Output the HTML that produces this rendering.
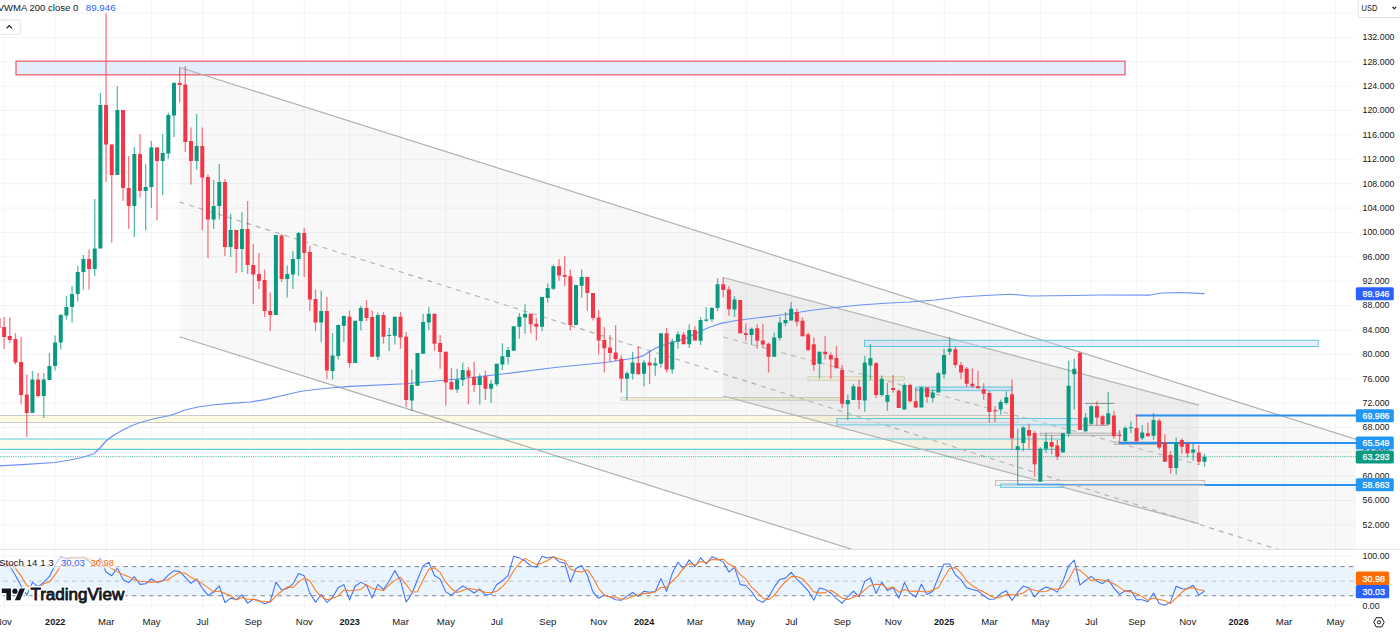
<!DOCTYPE html>
<html><head><meta charset="utf-8"><title>Chart</title><style>html,body{margin:0;padding:0;background:#fff;width:1400px;height:632px;overflow:hidden}</style></head><body><svg width="1400" height="632" viewBox="0 0 1400 632" style="position:absolute;left:0;top:0;font-family:'Liberation Sans',sans-serif">
<defs><clipPath id="main"><rect x="0" y="0" width="1356" height="549.3"/></clipPath><clipPath id="st"><rect x="0" y="549.6" width="1355.2" height="61"/></clipPath></defs>
<rect width="1400" height="632" fill="#fff"/>
<g stroke="#f3f4f7" stroke-width="1"><line x1="4.28" y1="0" x2="4.28" y2="610.6"/><line x1="55.24" y1="0" x2="55.24" y2="610.6"/><line x1="106.2" y1="0" x2="106.2" y2="610.6"/><line x1="151.5" y1="0" x2="151.5" y2="610.6"/><line x1="202.46" y1="0" x2="202.46" y2="610.6"/><line x1="253.41" y1="0" x2="253.41" y2="610.6"/><line x1="304.37" y1="0" x2="304.37" y2="610.6"/><line x1="349.67" y1="0" x2="349.67" y2="610.6"/><line x1="400.63" y1="0" x2="400.63" y2="610.6"/><line x1="445.93" y1="0" x2="445.93" y2="610.6"/><line x1="496.88" y1="0" x2="496.88" y2="610.6"/><line x1="547.84" y1="0" x2="547.84" y2="610.6"/><line x1="598.8" y1="0" x2="598.8" y2="610.6"/><line x1="644.1" y1="0" x2="644.1" y2="610.6"/><line x1="695.06" y1="0" x2="695.06" y2="610.6"/><line x1="746.02" y1="0" x2="746.02" y2="610.6"/><line x1="791.31" y1="0" x2="791.31" y2="610.6"/><line x1="842.27" y1="0" x2="842.27" y2="610.6"/><line x1="893.23" y1="0" x2="893.23" y2="610.6"/><line x1="944.19" y1="0" x2="944.19" y2="610.6"/><line x1="989.49" y1="0" x2="989.49" y2="610.6"/><line x1="1040.45" y1="0" x2="1040.45" y2="610.6"/><line x1="1091.41" y1="0" x2="1091.41" y2="610.6"/><line x1="1136.7" y1="0" x2="1136.7" y2="610.6"/><line x1="1187.66" y1="0" x2="1187.66" y2="610.6"/><line x1="1238.62" y1="0" x2="1238.62" y2="610.6"/><line x1="1283.92" y1="0" x2="1283.92" y2="610.6"/><line x1="1335.48" y1="0" x2="1335.48" y2="610.6"/><line x1="0" y1="524.97" x2="1355" y2="524.97"/><line x1="0" y1="500.59" x2="1355" y2="500.59"/><line x1="0" y1="476.22" x2="1355" y2="476.22"/><line x1="0" y1="451.84" x2="1355" y2="451.84"/><line x1="0" y1="427.47" x2="1355" y2="427.47"/><line x1="0" y1="403.09" x2="1355" y2="403.09"/><line x1="0" y1="378.71" x2="1355" y2="378.71"/><line x1="0" y1="354.34" x2="1355" y2="354.34"/><line x1="0" y1="329.96" x2="1355" y2="329.96"/><line x1="0" y1="305.59" x2="1355" y2="305.59"/><line x1="0" y1="281.21" x2="1355" y2="281.21"/><line x1="0" y1="256.83" x2="1355" y2="256.83"/><line x1="0" y1="232.46" x2="1355" y2="232.46"/><line x1="0" y1="208.08" x2="1355" y2="208.08"/><line x1="0" y1="183.71" x2="1355" y2="183.71"/><line x1="0" y1="159.33" x2="1355" y2="159.33"/><line x1="0" y1="134.95" x2="1355" y2="134.95"/><line x1="0" y1="110.58" x2="1355" y2="110.58"/><line x1="0" y1="86.20" x2="1355" y2="86.20"/><line x1="0" y1="61.83" x2="1355" y2="61.83"/><line x1="0" y1="37.45" x2="1355" y2="37.45"/><line x1="0" y1="13.07" x2="1355" y2="13.07"/><line x1="0" y1="556.13" x2="1355" y2="556.13"/><line x1="0" y1="605.30" x2="1355" y2="605.30"/></g>
<line x1="0" y1="549.4" x2="1400" y2="549.4" stroke="#e0e3eb" stroke-width="1"/>
<g clip-path="url(#main)">
<rect x="16" y="61.2" width="1109" height="13.6" fill="#e3eefd" stroke="#f2636f" stroke-width="1.3"/>
<polygon points="179.5,67.34 1400,453.26 1400,722.67 179.5,336.75" fill="rgba(60,60,60,0.034)"/>
<rect x="-2" y="415.5" width="1020" height="7" fill="#fcfae3" stroke="#c4c6d0" stroke-width="0.9"/>
<rect x="-2" y="439" width="1064" height="10.4" fill="#fdfbea"/>
<line x1="0" y1="439" x2="1062" y2="439" stroke="#5fcfe0" stroke-width="1.2"/>
<line x1="0" y1="449.4" x2="1062" y2="449.4" stroke="#5fcfe0" stroke-width="1.2"/>
<rect x="621" y="397.4" width="221.5" height="2.8" fill="#f3f0d6" stroke="#c9c9c0" stroke-width="0.8"/>
<polygon points="723.25,277.50 1198.9,405.17 1198.9,523.67 723.25,396.00" fill="rgba(60,60,60,0.06)"/>
<line x1="180" y1="67.50" x2="1400" y2="453.26" stroke="#b0b0b0" stroke-width="1.2"/>
<line x1="179.5" y1="336.75" x2="1400" y2="722.67" stroke="#b0b0b0" stroke-width="1.2"/>
<line x1="179.5" y1="202.00" x2="1400" y2="587.92" stroke="#b0b0b0" stroke-width="1.1" stroke-dasharray="5 5"/>
<line x1="723.25" y1="277.50" x2="1198.9" y2="405.17" stroke="#b4b4b4" stroke-width="1.25"/>
<line x1="723.25" y1="396.00" x2="1198.9" y2="523.67" stroke="#b4b4b4" stroke-width="1.25"/>
<line x1="723.25" y1="337.00" x2="1198.9" y2="464.67" stroke="#b8b8b8" stroke-width="1.1" stroke-dasharray="5 5"/>
<rect x="808" y="376.8" width="96.3" height="3.4" fill="#efecd0" stroke="#c9c9bc" stroke-width="0.8"/>
<rect x="864.5" y="340.3" width="453.7" height="6.2" fill="rgba(195,212,250,0.4)" stroke="#62c8e0" stroke-width="1"/>
<rect x="916" y="387" width="96" height="3.6" fill="rgba(190,215,245,0.6)" stroke="#62c8e0" stroke-width="1"/>
<rect x="837" y="418.5" width="243" height="6.4" fill="rgba(205,225,250,0.4)" stroke="#62c8e0" stroke-width="1"/>
<rect x="995.4" y="480.5" width="209.3" height="5" fill="#f6f1f1" stroke="#bdbdbd" stroke-width="0.9"/>
<rect x="1000.6" y="484" width="62.4" height="3.4" fill="rgba(205,225,250,0.4)" stroke="#62c8e0" stroke-width="1"/>
<rect x="1040.3" y="433.1" width="80" height="2.3" fill="#e4e0e0" stroke="#aaaaaa" stroke-width="0.8"/>
<rect x="1114.3" y="442" width="47" height="2.4" fill="#e4e0e0" stroke="#aaaaaa" stroke-width="0.8"/>
<line x1="1085" y1="403.4" x2="1114.6" y2="403.4" stroke="#8a8a8a" stroke-width="1"/>
<line x1="1082" y1="425.3" x2="1108.5" y2="425.3" stroke="#9c9c9c" stroke-width="1"/>
<line x1="1135.7" y1="415.6" x2="1356" y2="415.6" stroke="#2b8ff0" stroke-width="2"/>
<line x1="1118.6" y1="442.9" x2="1356" y2="442.9" stroke="#2b8ff0" stroke-width="2"/>
<line x1="1017.5" y1="484.6" x2="1204.8" y2="484.6" stroke="#4a9bf0" stroke-width="1"/>
<line x1="1204.8" y1="484.9" x2="1356" y2="484.9" stroke="#2b8ff0" stroke-width="2"/>
<line x1="0" y1="456.7" x2="1356" y2="456.7" stroke="#089981" stroke-width="1" stroke-dasharray="1.1 1.1" opacity="0.7"/>
<polyline fill="none" stroke="#6d92f7" stroke-width="1.25" stroke-linejoin="round" points="0,466 30,464.2 55,462.5 70,460 82,457.5 94,453.75 100,448 106,441 114,435 123,430 131,426 140,422.5 155,418.5 170,415.5 185,410 198,407 212,405 230,403.3 250,402 265,399.7 285,395 300,391.5 315,389.5 330,388 350,386.3 405,383.75 455,379.25 505,373.75 555,367.5 605,362.5 630,358.75 636,357.8 642,356.2 646,354 650,351.25 655,348.5 660,346.25 672,342.5 685,338.75 698,332.5 710,327 722,323.2 735,320.75 760,317.5 785,314.5 810,310.5 835,307.5 860,305 885,303.25 910,302 935,300 960,297 985,295.5 1010,294.25 1020,295 1030,296 1075,295.5 1100,295 1150,295 1156,294 1162,293 1180,292.5 1204.5,293.6"/>
<g stroke-width="1.3" opacity="0.66"><line x1="-1.53" y1="317" x2="-1.53" y2="330" stroke="#f23645"/><line x1="4.13" y1="317" x2="4.13" y2="349" stroke="#f23645"/><line x1="9.79" y1="317.5" x2="9.79" y2="343" stroke="#f23645"/><line x1="15.46" y1="333" x2="15.46" y2="364.5" stroke="#f23645"/><line x1="21.12" y1="337" x2="21.12" y2="404.5" stroke="#f23645"/><line x1="26.78" y1="374.5" x2="26.78" y2="437" stroke="#f23645"/><line x1="32.44" y1="371" x2="32.44" y2="413" stroke="#089981"/><line x1="38.10" y1="373" x2="38.10" y2="397.5" stroke="#f23645"/><line x1="43.77" y1="373" x2="43.77" y2="418" stroke="#089981"/><line x1="49.43" y1="353" x2="49.43" y2="380" stroke="#089981"/><line x1="55.09" y1="335.5" x2="55.09" y2="370.5" stroke="#089981"/><line x1="60.75" y1="314" x2="60.75" y2="349.5" stroke="#089981"/><line x1="66.42" y1="296" x2="66.42" y2="319.5" stroke="#089981"/><line x1="72.08" y1="286" x2="72.08" y2="322.5" stroke="#089981"/><line x1="77.74" y1="266" x2="77.74" y2="301.5" stroke="#089981"/><line x1="83.40" y1="255" x2="83.40" y2="289.5" stroke="#089981"/><line x1="89.06" y1="249.5" x2="89.06" y2="289.5" stroke="#f23645"/><line x1="94.73" y1="199" x2="94.73" y2="276" stroke="#089981"/><line x1="100.39" y1="93" x2="100.39" y2="248.5" stroke="#089981"/><line x1="106.05" y1="13.5" x2="106.05" y2="182" stroke="#f23645"/><line x1="111.71" y1="144.5" x2="111.71" y2="242.5" stroke="#f23645"/><line x1="117.37" y1="86" x2="117.37" y2="175" stroke="#089981"/><line x1="123.04" y1="110" x2="123.04" y2="201" stroke="#f23645"/><line x1="128.70" y1="156" x2="128.70" y2="229" stroke="#f23645"/><line x1="134.36" y1="147" x2="134.36" y2="237" stroke="#089981"/><line x1="140.02" y1="134" x2="140.02" y2="197.5" stroke="#f23645"/><line x1="145.68" y1="164" x2="145.68" y2="230.5" stroke="#089981"/><line x1="151.35" y1="141" x2="151.35" y2="208" stroke="#089981"/><line x1="157.01" y1="147.5" x2="157.01" y2="220.5" stroke="#f23645"/><line x1="162.67" y1="134" x2="162.67" y2="195" stroke="#089981"/><line x1="168.33" y1="112.5" x2="168.33" y2="159" stroke="#089981"/><line x1="174.00" y1="82" x2="174.00" y2="137" stroke="#089981"/><line x1="179.66" y1="67.5" x2="179.66" y2="102.5" stroke="#f23645"/><line x1="185.32" y1="66" x2="185.32" y2="152" stroke="#f23645"/><line x1="190.98" y1="127.5" x2="190.98" y2="184.5" stroke="#f23645"/><line x1="196.64" y1="114" x2="196.64" y2="169.5" stroke="#089981"/><line x1="202.31" y1="127.5" x2="202.31" y2="230" stroke="#f23645"/><line x1="207.97" y1="174.5" x2="207.97" y2="258" stroke="#f23645"/><line x1="213.63" y1="180" x2="213.63" y2="229" stroke="#089981"/><line x1="219.29" y1="164" x2="219.29" y2="219.5" stroke="#089981"/><line x1="224.95" y1="179" x2="224.95" y2="256" stroke="#f23645"/><line x1="230.62" y1="214" x2="230.62" y2="257" stroke="#089981"/><line x1="236.28" y1="230" x2="236.28" y2="273" stroke="#f23645"/><line x1="241.94" y1="212" x2="241.94" y2="272" stroke="#089981"/><line x1="247.60" y1="201" x2="247.60" y2="274" stroke="#f23645"/><line x1="253.26" y1="244" x2="253.26" y2="304" stroke="#f23645"/><line x1="258.93" y1="253" x2="258.93" y2="289" stroke="#f23645"/><line x1="264.59" y1="269.5" x2="264.59" y2="317" stroke="#f23645"/><line x1="270.25" y1="292.5" x2="270.25" y2="331" stroke="#f23645"/><line x1="275.91" y1="235" x2="275.91" y2="315" stroke="#089981"/><line x1="281.58" y1="234" x2="281.58" y2="282" stroke="#f23645"/><line x1="287.24" y1="265.5" x2="287.24" y2="297.5" stroke="#089981"/><line x1="292.90" y1="251" x2="292.90" y2="289" stroke="#089981"/><line x1="298.56" y1="232" x2="298.56" y2="276" stroke="#089981"/><line x1="304.22" y1="228" x2="304.22" y2="277" stroke="#f23645"/><line x1="309.89" y1="246" x2="309.89" y2="311" stroke="#f23645"/><line x1="315.55" y1="289.5" x2="315.55" y2="331" stroke="#f23645"/><line x1="321.21" y1="290.5" x2="321.21" y2="342" stroke="#089981"/><line x1="326.87" y1="297" x2="326.87" y2="379" stroke="#f23645"/><line x1="332.53" y1="333" x2="332.53" y2="379.5" stroke="#089981"/><line x1="338.20" y1="324.5" x2="338.20" y2="359.5" stroke="#089981"/><line x1="343.86" y1="315.5" x2="343.86" y2="342" stroke="#089981"/><line x1="349.52" y1="310.5" x2="349.52" y2="367.5" stroke="#f23645"/><line x1="355.18" y1="320.75" x2="355.18" y2="363" stroke="#089981"/><line x1="360.84" y1="305.5" x2="360.84" y2="330.5" stroke="#089981"/><line x1="366.51" y1="300" x2="366.51" y2="321" stroke="#f23645"/><line x1="372.17" y1="310.5" x2="372.17" y2="356.75" stroke="#f23645"/><line x1="377.83" y1="312.5" x2="377.83" y2="360" stroke="#089981"/><line x1="383.49" y1="312" x2="383.49" y2="343.75" stroke="#f23645"/><line x1="389.15" y1="328" x2="389.15" y2="351" stroke="#089981"/><line x1="394.82" y1="316.75" x2="394.82" y2="344.5" stroke="#089981"/><line x1="400.48" y1="312" x2="400.48" y2="348.75" stroke="#f23645"/><line x1="406.14" y1="332" x2="406.14" y2="407" stroke="#f23645"/><line x1="411.80" y1="369.5" x2="411.80" y2="411" stroke="#089981"/><line x1="417.47" y1="353" x2="417.47" y2="385.75" stroke="#089981"/><line x1="423.13" y1="313.75" x2="423.13" y2="353.75" stroke="#089981"/><line x1="428.79" y1="307" x2="428.79" y2="330" stroke="#089981"/><line x1="434.45" y1="313.75" x2="434.45" y2="350.75" stroke="#f23645"/><line x1="440.11" y1="335" x2="440.11" y2="368.75" stroke="#f23645"/><line x1="445.78" y1="351.75" x2="445.78" y2="405.5" stroke="#f23645"/><line x1="451.44" y1="368" x2="451.44" y2="389.5" stroke="#f23645"/><line x1="457.10" y1="368.75" x2="457.10" y2="393" stroke="#089981"/><line x1="462.76" y1="362.5" x2="462.76" y2="386" stroke="#089981"/><line x1="468.42" y1="367" x2="468.42" y2="404.5" stroke="#f23645"/><line x1="474.09" y1="361.75" x2="474.09" y2="392" stroke="#f23645"/><line x1="479.75" y1="373.75" x2="479.75" y2="404.5" stroke="#089981"/><line x1="485.41" y1="370.5" x2="485.41" y2="400" stroke="#f23645"/><line x1="491.07" y1="380" x2="491.07" y2="403" stroke="#089981"/><line x1="496.73" y1="363.75" x2="496.73" y2="386.25" stroke="#089981"/><line x1="502.40" y1="343.25" x2="502.40" y2="370" stroke="#089981"/><line x1="508.06" y1="347" x2="508.06" y2="364.5" stroke="#089981"/><line x1="513.72" y1="326.25" x2="513.72" y2="350.75" stroke="#089981"/><line x1="519.38" y1="313" x2="519.38" y2="338.75" stroke="#089981"/><line x1="525.05" y1="304.25" x2="525.05" y2="333.75" stroke="#089981"/><line x1="530.71" y1="313.75" x2="530.71" y2="333.25" stroke="#f23645"/><line x1="536.37" y1="317.5" x2="536.37" y2="340.5" stroke="#f23645"/><line x1="542.03" y1="297" x2="542.03" y2="331.25" stroke="#089981"/><line x1="547.69" y1="283.25" x2="547.69" y2="302.5" stroke="#089981"/><line x1="553.36" y1="264.5" x2="553.36" y2="290" stroke="#089981"/><line x1="559.02" y1="259.25" x2="559.02" y2="280.75" stroke="#f23645"/><line x1="564.68" y1="256.25" x2="564.68" y2="286.25" stroke="#f23645"/><line x1="570.34" y1="269.5" x2="570.34" y2="330.5" stroke="#f23645"/><line x1="576.00" y1="285" x2="576.00" y2="325" stroke="#089981"/><line x1="581.67" y1="269.5" x2="581.67" y2="297.5" stroke="#089981"/><line x1="587.33" y1="277" x2="587.33" y2="310.75" stroke="#f23645"/><line x1="592.99" y1="293" x2="592.99" y2="320.5" stroke="#f23645"/><line x1="598.65" y1="310" x2="598.65" y2="354.5" stroke="#f23645"/><line x1="604.31" y1="327" x2="604.31" y2="372.5" stroke="#f23645"/><line x1="609.98" y1="335" x2="609.98" y2="361.75" stroke="#f23645"/><line x1="615.64" y1="325" x2="615.64" y2="361.25" stroke="#f23645"/><line x1="621.30" y1="355.5" x2="621.30" y2="392.5" stroke="#f23645"/><line x1="626.96" y1="371.25" x2="626.96" y2="400" stroke="#089981"/><line x1="632.63" y1="351.75" x2="632.63" y2="379.5" stroke="#089981"/><line x1="638.29" y1="346.25" x2="638.29" y2="374.25" stroke="#f23645"/><line x1="643.95" y1="360" x2="643.95" y2="386.25" stroke="#089981"/><line x1="649.61" y1="350.75" x2="649.61" y2="384.25" stroke="#f23645"/><line x1="655.27" y1="357.5" x2="655.27" y2="375.75" stroke="#089981"/><line x1="660.94" y1="333.25" x2="660.94" y2="367.5" stroke="#089981"/><line x1="666.60" y1="328" x2="666.60" y2="372.5" stroke="#f23645"/><line x1="672.26" y1="338.75" x2="672.26" y2="373.75" stroke="#089981"/><line x1="677.92" y1="331.25" x2="677.92" y2="348.75" stroke="#089981"/><line x1="683.58" y1="332" x2="683.58" y2="344.25" stroke="#f23645"/><line x1="689.25" y1="324.25" x2="689.25" y2="348" stroke="#089981"/><line x1="694.91" y1="326.25" x2="694.91" y2="340.5" stroke="#f23645"/><line x1="700.57" y1="317" x2="700.57" y2="345" stroke="#089981"/><line x1="706.23" y1="307" x2="706.23" y2="322" stroke="#089981"/><line x1="711.89" y1="307" x2="711.89" y2="321.75" stroke="#089981"/><line x1="717.56" y1="278" x2="717.56" y2="311.25" stroke="#089981"/><line x1="723.22" y1="277.5" x2="723.22" y2="297.5" stroke="#f23645"/><line x1="728.88" y1="286.25" x2="728.88" y2="315.75" stroke="#f23645"/><line x1="734.54" y1="296.25" x2="734.54" y2="317" stroke="#089981"/><line x1="740.21" y1="300" x2="740.21" y2="333.25" stroke="#f23645"/><line x1="745.87" y1="323.75" x2="745.87" y2="340.75" stroke="#f23645"/><line x1="751.53" y1="327.5" x2="751.53" y2="345" stroke="#089981"/><line x1="757.19" y1="324.5" x2="757.19" y2="348.75" stroke="#f23645"/><line x1="762.85" y1="323.75" x2="762.85" y2="347.5" stroke="#f23645"/><line x1="768.52" y1="342.5" x2="768.52" y2="372.5" stroke="#f23645"/><line x1="774.18" y1="332.5" x2="774.18" y2="356.75" stroke="#089981"/><line x1="779.84" y1="317" x2="779.84" y2="340.75" stroke="#089981"/><line x1="785.50" y1="312" x2="785.50" y2="326.25" stroke="#089981"/><line x1="791.16" y1="302" x2="791.16" y2="320.5" stroke="#089981"/><line x1="796.83" y1="308.75" x2="796.83" y2="326.25" stroke="#f23645"/><line x1="802.49" y1="317.5" x2="802.49" y2="336.25" stroke="#f23645"/><line x1="808.15" y1="332.5" x2="808.15" y2="351.25" stroke="#f23645"/><line x1="813.81" y1="337.5" x2="813.81" y2="370.75" stroke="#f23645"/><line x1="819.47" y1="351.75" x2="819.47" y2="378.75" stroke="#089981"/><line x1="825.14" y1="336.25" x2="825.14" y2="359.5" stroke="#f23645"/><line x1="830.80" y1="352.5" x2="830.80" y2="378.75" stroke="#f23645"/><line x1="836.46" y1="346.25" x2="836.46" y2="368.25" stroke="#f23645"/><line x1="842.12" y1="365" x2="842.12" y2="408.25" stroke="#f23645"/><line x1="847.79" y1="394.5" x2="847.79" y2="420" stroke="#089981"/><line x1="853.45" y1="383.75" x2="853.45" y2="400" stroke="#089981"/><line x1="859.11" y1="380" x2="859.11" y2="409.25" stroke="#f23645"/><line x1="864.77" y1="355.75" x2="864.77" y2="411.75" stroke="#089981"/><line x1="870.43" y1="344.25" x2="870.43" y2="380" stroke="#089981"/><line x1="876.10" y1="362" x2="876.10" y2="398" stroke="#f23645"/><line x1="881.76" y1="375.5" x2="881.76" y2="396.75" stroke="#089981"/><line x1="887.42" y1="383" x2="887.42" y2="410.75" stroke="#089981"/><line x1="893.08" y1="375" x2="893.08" y2="392.5" stroke="#f23645"/><line x1="898.74" y1="389.25" x2="898.74" y2="408" stroke="#f23645"/><line x1="904.41" y1="383.25" x2="904.41" y2="409.5" stroke="#089981"/><line x1="910.07" y1="383.75" x2="910.07" y2="402.5" stroke="#f23645"/><line x1="915.73" y1="388" x2="915.73" y2="407.5" stroke="#f23645"/><line x1="921.39" y1="386.25" x2="921.39" y2="407.5" stroke="#089981"/><line x1="927.05" y1="387.5" x2="927.05" y2="402.5" stroke="#f23645"/><line x1="932.72" y1="389.5" x2="932.72" y2="402.5" stroke="#089981"/><line x1="938.38" y1="372" x2="938.38" y2="392.5" stroke="#089981"/><line x1="944.04" y1="348.75" x2="944.04" y2="378.25" stroke="#089981"/><line x1="949.70" y1="337" x2="949.70" y2="355" stroke="#089981"/><line x1="955.36" y1="346.75" x2="955.36" y2="367.5" stroke="#f23645"/><line x1="961.03" y1="362" x2="961.03" y2="379.25" stroke="#f23645"/><line x1="966.69" y1="367" x2="966.69" y2="387" stroke="#f23645"/><line x1="972.35" y1="368.25" x2="972.35" y2="387.5" stroke="#f23645"/><line x1="978.01" y1="370.75" x2="978.01" y2="388.25" stroke="#f23645"/><line x1="983.68" y1="383.25" x2="983.68" y2="400" stroke="#f23645"/><line x1="989.34" y1="390.75" x2="989.34" y2="422.5" stroke="#f23645"/><line x1="995.00" y1="406" x2="995.00" y2="422" stroke="#f23645"/><line x1="1000.66" y1="399.5" x2="1000.66" y2="414.5" stroke="#089981"/><line x1="1006.32" y1="391.25" x2="1006.32" y2="404.5" stroke="#089981"/><line x1="1011.99" y1="379.5" x2="1011.99" y2="449.5" stroke="#f23645"/><line x1="1017.65" y1="428.75" x2="1017.65" y2="485" stroke="#089981"/><line x1="1023.31" y1="426.25" x2="1023.31" y2="451.25" stroke="#089981"/><line x1="1028.97" y1="423.75" x2="1028.97" y2="448.75" stroke="#f23645"/><line x1="1034.63" y1="431.25" x2="1034.63" y2="476.75" stroke="#f23645"/><line x1="1040.30" y1="447" x2="1040.30" y2="481.75" stroke="#089981"/><line x1="1045.96" y1="433" x2="1045.96" y2="453" stroke="#089981"/><line x1="1051.62" y1="435" x2="1051.62" y2="454.5" stroke="#f23645"/><line x1="1057.28" y1="440" x2="1057.28" y2="460" stroke="#f23645"/><line x1="1062.94" y1="433.25" x2="1062.94" y2="452.5" stroke="#089981"/><line x1="1068.61" y1="360.75" x2="1068.61" y2="436.75" stroke="#089981"/><line x1="1074.27" y1="358.75" x2="1074.27" y2="409.5" stroke="#089981"/><line x1="1079.93" y1="351.5" x2="1079.93" y2="430" stroke="#f23645"/><line x1="1085.59" y1="413" x2="1085.59" y2="432.5" stroke="#089981"/><line x1="1091.26" y1="405" x2="1091.26" y2="425" stroke="#089981"/><line x1="1096.92" y1="401.25" x2="1096.92" y2="425" stroke="#f23645"/><line x1="1102.58" y1="415" x2="1102.58" y2="425.5" stroke="#f23645"/><line x1="1108.24" y1="392" x2="1108.24" y2="424.5" stroke="#089981"/><line x1="1113.90" y1="410.75" x2="1113.90" y2="438.75" stroke="#f23645"/><line x1="1119.57" y1="430" x2="1119.57" y2="443" stroke="#f23645"/><line x1="1125.23" y1="426.25" x2="1125.23" y2="441.25" stroke="#089981"/><line x1="1130.89" y1="421.25" x2="1130.89" y2="433.25" stroke="#089981"/><line x1="1136.55" y1="415" x2="1136.55" y2="441.25" stroke="#f23645"/><line x1="1142.21" y1="425" x2="1142.21" y2="440" stroke="#089981"/><line x1="1147.88" y1="422.5" x2="1147.88" y2="436.25" stroke="#f23645"/><line x1="1153.54" y1="413" x2="1153.54" y2="440" stroke="#089981"/><line x1="1159.20" y1="418.75" x2="1159.20" y2="449.5" stroke="#f23645"/><line x1="1164.86" y1="434.25" x2="1164.86" y2="461.75" stroke="#f23645"/><line x1="1170.52" y1="451" x2="1170.52" y2="473.75" stroke="#f23645"/><line x1="1176.19" y1="437.5" x2="1176.19" y2="474.5" stroke="#089981"/><line x1="1181.85" y1="438.25" x2="1181.85" y2="453.75" stroke="#f23645"/><line x1="1187.51" y1="442.5" x2="1187.51" y2="457.5" stroke="#f23645"/><line x1="1193.17" y1="443.75" x2="1193.17" y2="460.75" stroke="#089981"/><line x1="1198.84" y1="445" x2="1198.84" y2="465" stroke="#f23645"/><line x1="1204.50" y1="453.75" x2="1204.50" y2="466.75" stroke="#089981"/></g>
<g><rect x="-3.53" y="318" width="4" height="10.00" fill="#f23645"/><rect x="2.13" y="327" width="4" height="10.00" fill="#f23645"/><rect x="7.79" y="336" width="4" height="4.00" fill="#f23645"/><rect x="13.46" y="339" width="4" height="23.50" fill="#f23645"/><rect x="19.12" y="362" width="4" height="33.00" fill="#f23645"/><rect x="24.78" y="394.5" width="4" height="18.50" fill="#f23645"/><rect x="30.44" y="379.5" width="4" height="33.50" fill="#089981"/><rect x="36.10" y="379.5" width="4" height="16.50" fill="#f23645"/><rect x="41.77" y="379.5" width="4" height="16.50" fill="#089981"/><rect x="47.43" y="366" width="4" height="14.00" fill="#089981"/><rect x="53.09" y="342.5" width="4" height="23.50" fill="#089981"/><rect x="58.75" y="315" width="4" height="27.50" fill="#089981"/><rect x="64.42" y="307" width="4" height="8.50" fill="#089981"/><rect x="70.08" y="294" width="4" height="13.00" fill="#089981"/><rect x="75.74" y="272" width="4" height="22.00" fill="#089981"/><rect x="81.40" y="259" width="4" height="13.00" fill="#089981"/><rect x="87.06" y="259" width="4" height="10.00" fill="#f23645"/><rect x="92.73" y="248.5" width="4" height="20.50" fill="#089981"/><rect x="98.39" y="105" width="4" height="143.50" fill="#089981"/><rect x="104.05" y="105" width="4" height="39.50" fill="#f23645"/><rect x="109.71" y="144.5" width="4" height="30.50" fill="#f23645"/><rect x="115.37" y="110" width="4" height="65.00" fill="#089981"/><rect x="121.04" y="110" width="4" height="78.00" fill="#f23645"/><rect x="126.70" y="188" width="4" height="18.00" fill="#f23645"/><rect x="132.36" y="154" width="4" height="52.00" fill="#089981"/><rect x="138.02" y="154" width="4" height="37.00" fill="#f23645"/><rect x="143.68" y="187" width="4" height="4.00" fill="#089981"/><rect x="149.35" y="147.5" width="4" height="39.50" fill="#089981"/><rect x="155.01" y="147.5" width="4" height="13.50" fill="#f23645"/><rect x="160.67" y="153" width="4" height="8.00" fill="#089981"/><rect x="166.33" y="115" width="4" height="38.50" fill="#089981"/><rect x="172.00" y="83" width="4" height="32.50" fill="#089981"/><rect x="177.66" y="83" width="4" height="2.00" fill="#f23645"/><rect x="183.32" y="84.5" width="4" height="57.50" fill="#f23645"/><rect x="188.98" y="141" width="4" height="20.00" fill="#f23645"/><rect x="194.64" y="146" width="4" height="15.00" fill="#089981"/><rect x="200.31" y="146" width="4" height="31.50" fill="#f23645"/><rect x="205.97" y="177" width="4" height="42.50" fill="#f23645"/><rect x="211.63" y="206" width="4" height="13.50" fill="#089981"/><rect x="217.29" y="182" width="4" height="24.00" fill="#089981"/><rect x="222.95" y="182" width="4" height="65.00" fill="#f23645"/><rect x="228.62" y="230" width="4" height="17.00" fill="#089981"/><rect x="234.28" y="230" width="4" height="19.00" fill="#f23645"/><rect x="239.94" y="229" width="4" height="20.00" fill="#089981"/><rect x="245.60" y="229" width="4" height="36.00" fill="#f23645"/><rect x="251.26" y="265" width="4" height="9.50" fill="#f23645"/><rect x="256.93" y="274" width="4" height="7.00" fill="#f23645"/><rect x="262.59" y="280" width="4" height="31.00" fill="#f23645"/><rect x="268.25" y="311" width="4" height="4.00" fill="#f23645"/><rect x="273.91" y="235" width="4" height="80.00" fill="#089981"/><rect x="279.58" y="235.5" width="4" height="43.50" fill="#f23645"/><rect x="285.24" y="274" width="4" height="5.00" fill="#089981"/><rect x="290.90" y="259" width="4" height="15.50" fill="#089981"/><rect x="296.56" y="233" width="4" height="26.00" fill="#089981"/><rect x="302.22" y="233" width="4" height="20.00" fill="#f23645"/><rect x="307.89" y="252" width="4" height="47.50" fill="#f23645"/><rect x="313.55" y="299" width="4" height="23.50" fill="#f23645"/><rect x="319.21" y="311" width="4" height="11.50" fill="#089981"/><rect x="324.87" y="311" width="4" height="59.50" fill="#f23645"/><rect x="330.53" y="355.5" width="4" height="15.50" fill="#089981"/><rect x="336.20" y="325" width="4" height="31.00" fill="#089981"/><rect x="341.86" y="316" width="4" height="9.75" fill="#089981"/><rect x="347.52" y="316.75" width="4" height="46.25" fill="#f23645"/><rect x="353.18" y="320.75" width="4" height="42.25" fill="#089981"/><rect x="358.84" y="308" width="4" height="13.00" fill="#089981"/><rect x="364.51" y="308" width="4" height="10.00" fill="#f23645"/><rect x="370.17" y="317" width="4" height="39.75" fill="#f23645"/><rect x="375.83" y="315" width="4" height="41.75" fill="#089981"/><rect x="381.49" y="315" width="4" height="21.75" fill="#f23645"/><rect x="387.15" y="335" width="4" height="1.00" fill="#089981"/><rect x="392.82" y="316.75" width="4" height="19.00" fill="#089981"/><rect x="398.48" y="316.75" width="4" height="20.75" fill="#f23645"/><rect x="404.14" y="336.75" width="4" height="63.25" fill="#f23645"/><rect x="409.80" y="385" width="4" height="15.50" fill="#089981"/><rect x="415.47" y="353" width="4" height="32.75" fill="#089981"/><rect x="421.13" y="322" width="4" height="31.75" fill="#089981"/><rect x="426.79" y="313.75" width="4" height="8.75" fill="#089981"/><rect x="432.45" y="313.75" width="4" height="30.00" fill="#f23645"/><rect x="438.11" y="343" width="4" height="9.00" fill="#f23645"/><rect x="443.78" y="351.75" width="4" height="30.75" fill="#f23645"/><rect x="449.44" y="382" width="4" height="7.50" fill="#f23645"/><rect x="455.10" y="379.5" width="4" height="10.00" fill="#089981"/><rect x="460.76" y="370" width="4" height="10.00" fill="#089981"/><rect x="466.42" y="370.5" width="4" height="6.25" fill="#f23645"/><rect x="472.09" y="377" width="4" height="8.00" fill="#f23645"/><rect x="477.75" y="376.75" width="4" height="8.25" fill="#089981"/><rect x="483.41" y="376.25" width="4" height="12.50" fill="#f23645"/><rect x="489.07" y="383.75" width="4" height="5.00" fill="#089981"/><rect x="494.73" y="363.75" width="4" height="20.50" fill="#089981"/><rect x="500.40" y="356.25" width="4" height="8.25" fill="#089981"/><rect x="506.06" y="350" width="4" height="7.00" fill="#089981"/><rect x="511.72" y="326.25" width="4" height="24.50" fill="#089981"/><rect x="517.38" y="316.75" width="4" height="10.00" fill="#089981"/><rect x="523.05" y="313.75" width="4" height="3.75" fill="#089981"/><rect x="528.71" y="313.75" width="4" height="10.50" fill="#f23645"/><rect x="534.37" y="323.75" width="4" height="3.00" fill="#f23645"/><rect x="540.03" y="297" width="4" height="29.75" fill="#089981"/><rect x="545.69" y="288" width="4" height="10.00" fill="#089981"/><rect x="551.36" y="266.25" width="4" height="22.50" fill="#089981"/><rect x="557.02" y="266.25" width="4" height="9.25" fill="#f23645"/><rect x="562.68" y="275" width="4" height="1.75" fill="#f23645"/><rect x="568.34" y="276.25" width="4" height="48.75" fill="#f23645"/><rect x="574.00" y="285" width="4" height="40.00" fill="#089981"/><rect x="579.67" y="277" width="4" height="8.75" fill="#089981"/><rect x="585.33" y="277" width="4" height="16.00" fill="#f23645"/><rect x="590.99" y="293" width="4" height="25.00" fill="#f23645"/><rect x="596.65" y="317.5" width="4" height="23.00" fill="#f23645"/><rect x="602.31" y="340" width="4" height="8.25" fill="#f23645"/><rect x="607.98" y="347.5" width="4" height="5.50" fill="#f23645"/><rect x="613.64" y="352.5" width="4" height="6.75" fill="#f23645"/><rect x="619.30" y="358.75" width="4" height="20.00" fill="#f23645"/><rect x="624.96" y="373.25" width="4" height="5.50" fill="#089981"/><rect x="630.63" y="362.5" width="4" height="11.25" fill="#089981"/><rect x="636.29" y="363" width="4" height="11.25" fill="#f23645"/><rect x="641.95" y="362.5" width="4" height="11.25" fill="#089981"/><rect x="647.61" y="362.5" width="4" height="3.00" fill="#f23645"/><rect x="653.27" y="363.25" width="4" height="2.25" fill="#089981"/><rect x="658.94" y="333.25" width="4" height="30.50" fill="#089981"/><rect x="664.60" y="333.25" width="4" height="36.25" fill="#f23645"/><rect x="670.26" y="341.5" width="4" height="28.00" fill="#089981"/><rect x="675.92" y="334.25" width="4" height="7.50" fill="#089981"/><rect x="681.58" y="334.5" width="4" height="9.75" fill="#f23645"/><rect x="687.25" y="330" width="4" height="14.25" fill="#089981"/><rect x="692.91" y="330" width="4" height="10.50" fill="#f23645"/><rect x="698.57" y="320" width="4" height="20.75" fill="#089981"/><rect x="704.23" y="319.5" width="4" height="1.25" fill="#089981"/><rect x="709.89" y="308" width="4" height="11.25" fill="#089981"/><rect x="715.56" y="284.25" width="4" height="23.75" fill="#089981"/><rect x="721.22" y="284.25" width="4" height="5.75" fill="#f23645"/><rect x="726.88" y="289.5" width="4" height="19.75" fill="#f23645"/><rect x="732.54" y="299.5" width="4" height="10.00" fill="#089981"/><rect x="738.21" y="300" width="4" height="33.25" fill="#f23645"/><rect x="743.87" y="333.25" width="4" height="1.75" fill="#f23645"/><rect x="749.53" y="328.75" width="4" height="6.25" fill="#089981"/><rect x="755.19" y="328.25" width="4" height="12.50" fill="#f23645"/><rect x="760.85" y="340.5" width="4" height="4.00" fill="#f23645"/><rect x="766.52" y="343.75" width="4" height="13.00" fill="#f23645"/><rect x="772.18" y="337.5" width="4" height="19.25" fill="#089981"/><rect x="777.84" y="322.5" width="4" height="15.50" fill="#089981"/><rect x="783.50" y="320" width="4" height="3.25" fill="#089981"/><rect x="789.16" y="308.75" width="4" height="11.75" fill="#089981"/><rect x="794.83" y="312" width="4" height="9.75" fill="#f23645"/><rect x="800.49" y="320.75" width="4" height="15.50" fill="#f23645"/><rect x="806.15" y="334.5" width="4" height="15.50" fill="#f23645"/><rect x="811.81" y="344.25" width="4" height="20.75" fill="#f23645"/><rect x="817.47" y="351.75" width="4" height="12.00" fill="#089981"/><rect x="823.14" y="351.75" width="4" height="2.50" fill="#f23645"/><rect x="828.80" y="355" width="4" height="4.50" fill="#f23645"/><rect x="834.46" y="358" width="4" height="10.25" fill="#f23645"/><rect x="840.12" y="370" width="4" height="33.75" fill="#f23645"/><rect x="845.79" y="400" width="4" height="4.25" fill="#089981"/><rect x="851.45" y="386.25" width="4" height="13.75" fill="#089981"/><rect x="857.11" y="386.75" width="4" height="13.25" fill="#f23645"/><rect x="862.77" y="362.5" width="4" height="38.00" fill="#089981"/><rect x="868.43" y="358.25" width="4" height="7.25" fill="#089981"/><rect x="874.10" y="363.25" width="4" height="31.75" fill="#f23645"/><rect x="879.76" y="378.75" width="4" height="16.25" fill="#089981"/><rect x="885.42" y="395" width="4" height="6.75" fill="#089981"/><rect x="891.08" y="388" width="4" height="2.00" fill="#f23645"/><rect x="896.74" y="390.75" width="4" height="17.25" fill="#f23645"/><rect x="902.41" y="385" width="4" height="24.50" fill="#089981"/><rect x="908.07" y="385" width="4" height="16.25" fill="#f23645"/><rect x="913.73" y="401.25" width="4" height="6.25" fill="#f23645"/><rect x="919.39" y="387.5" width="4" height="20.00" fill="#089981"/><rect x="925.05" y="387.5" width="4" height="9.50" fill="#f23645"/><rect x="930.72" y="392.5" width="4" height="5.50" fill="#089981"/><rect x="936.38" y="373.25" width="4" height="19.25" fill="#089981"/><rect x="942.04" y="355" width="4" height="19.25" fill="#089981"/><rect x="947.70" y="348.75" width="4" height="3.00" fill="#089981"/><rect x="953.36" y="349.25" width="4" height="15.75" fill="#f23645"/><rect x="959.03" y="365" width="4" height="7.50" fill="#f23645"/><rect x="964.69" y="368.75" width="4" height="15.00" fill="#f23645"/><rect x="970.35" y="383.75" width="4" height="2.50" fill="#f23645"/><rect x="976.01" y="386.25" width="4" height="2.00" fill="#f23645"/><rect x="981.68" y="389.25" width="4" height="4.50" fill="#f23645"/><rect x="987.34" y="393" width="4" height="19.00" fill="#f23645"/><rect x="993.00" y="410.5" width="4" height="1.00" fill="#f23645"/><rect x="998.66" y="402" width="4" height="7.50" fill="#089981"/><rect x="1004.32" y="397.25" width="4" height="5.75" fill="#089981"/><rect x="1009.99" y="394.25" width="4" height="44.00" fill="#f23645"/><rect x="1015.65" y="446.25" width="4" height="3.75" fill="#089981"/><rect x="1021.31" y="427.5" width="4" height="15.50" fill="#089981"/><rect x="1026.97" y="430" width="4" height="5.75" fill="#f23645"/><rect x="1032.63" y="433" width="4" height="31.25" fill="#f23645"/><rect x="1038.30" y="448.75" width="4" height="33.00" fill="#089981"/><rect x="1043.96" y="441.75" width="4" height="7.00" fill="#089981"/><rect x="1049.62" y="442" width="4" height="4.75" fill="#f23645"/><rect x="1055.28" y="445.5" width="4" height="11.25" fill="#f23645"/><rect x="1060.94" y="433.25" width="4" height="19.25" fill="#089981"/><rect x="1066.61" y="385.75" width="4" height="48.00" fill="#089981"/><rect x="1072.27" y="368.75" width="4" height="5.50" fill="#089981"/><rect x="1077.93" y="353" width="4" height="77.00" fill="#f23645"/><rect x="1083.59" y="417.5" width="4" height="13.75" fill="#089981"/><rect x="1089.26" y="406.25" width="4" height="17.50" fill="#089981"/><rect x="1094.92" y="406.25" width="4" height="11.25" fill="#f23645"/><rect x="1100.58" y="416.25" width="4" height="8.25" fill="#f23645"/><rect x="1106.24" y="413.25" width="4" height="11.25" fill="#089981"/><rect x="1111.90" y="415.5" width="4" height="20.75" fill="#f23645"/><rect x="1117.57" y="435" width="4" height="1.00" fill="#f23645"/><rect x="1123.23" y="428" width="4" height="13.25" fill="#089981"/><rect x="1128.89" y="427.25" width="4" height="1.00" fill="#089981"/><rect x="1134.55" y="428" width="4" height="13.25" fill="#f23645"/><rect x="1140.21" y="432.5" width="4" height="5.75" fill="#089981"/><rect x="1145.88" y="433.25" width="4" height="3.00" fill="#f23645"/><rect x="1151.54" y="420" width="4" height="15.75" fill="#089981"/><rect x="1157.20" y="420.75" width="4" height="26.75" fill="#f23645"/><rect x="1162.86" y="442.5" width="4" height="19.25" fill="#f23645"/><rect x="1168.52" y="455" width="4" height="13.00" fill="#f23645"/><rect x="1174.19" y="442.5" width="4" height="25.50" fill="#089981"/><rect x="1179.85" y="440" width="4" height="6.75" fill="#f23645"/><rect x="1185.51" y="443.25" width="4" height="10.00" fill="#f23645"/><rect x="1191.17" y="449.5" width="4" height="3.00" fill="#089981"/><rect x="1196.84" y="452.5" width="4" height="9.25" fill="#f23645"/><rect x="1202.50" y="456.75" width="4" height="5.00" fill="#089981"/></g>
</g>
<g clip-path="url(#st)">
<rect x="0" y="566.5" width="1355.2" height="29" fill="#e9f4fe"/>
<line x1="3.5" y1="566.60" x2="1356" y2="566.60" stroke="#7e818b" stroke-width="1" stroke-dasharray="4.3 4.27"/>
<line x1="3.5" y1="581.20" x2="1356" y2="581.20" stroke="#bcbfc8" stroke-width="1" stroke-dasharray="4.3 4.27"/>
<line x1="3.5" y1="595.75" x2="1356" y2="595.75" stroke="#7e818b" stroke-width="1" stroke-dasharray="4.3 4.27"/>
<polyline fill="none" stroke="#3d6ffb" stroke-width="1.05" stroke-linejoin="round" points="-1.53,561.00 4.13,563.60 9.79,566.10 15.46,575.60 21.12,585.90 26.78,595.30 32.44,582.40 38.10,586.70 43.77,582.40 49.43,576.40 55.09,565.30 60.75,556.70 66.42,558.40 72.08,557.60 77.74,557.86 83.40,557.21 89.06,561.24 94.73,566.36 100.39,557.85 106.05,572.05 111.71,575.76 117.37,567.86 123.04,579.54 128.70,582.64 134.36,576.69 140.02,584.37 145.68,583.74 151.35,579.01 157.01,582.41 162.67,580.98 168.33,575.14 174.00,570.67 179.66,571.48 185.32,577.30 190.98,583.45 196.64,579.13 202.31,588.19 207.97,595.44 213.63,591.98 219.29,585.84 224.95,602.48 230.62,598.13 236.28,599.60 241.94,594.85 247.60,603.17 253.26,599.21 258.93,600.55 264.59,603.85 270.25,601.67 275.91,582.10 281.58,589.99 287.24,588.52 292.90,584.10 298.56,573.60 304.22,575.80 309.89,593.39 315.55,602.09 321.21,594.49 326.87,602.53 332.53,597.51 338.20,587.61 343.86,584.69 349.52,599.94 355.18,586.23 360.84,582.09 366.51,585.34 372.17,597.92 377.83,584.37 383.49,589.55 389.15,580.99 394.82,570.63 400.48,580.27 406.14,602.08 411.80,593.78 417.47,579.61 423.13,565.88 428.79,562.22 434.45,575.51 440.11,579.16 445.78,591.83 451.44,595.14 457.10,590.41 462.76,585.92 468.42,589.11 474.09,593.01 479.75,589.11 485.41,594.78 491.07,594.44 496.73,584.46 502.40,580.71 508.06,575.56 513.72,556.13 519.38,558.12 525.05,560.79 530.71,565.94 536.37,567.17 542.03,556.13 547.69,558.06 553.36,556.74 559.02,561.69 564.68,563.00 570.34,582.13 576.00,568.56 581.67,565.56 587.33,575.25 592.99,592.17 598.65,598.29 604.31,595.04 609.98,597.05 615.64,599.70 621.30,600.34 626.96,596.15 632.63,592.47 638.29,596.49 643.95,591.17 649.61,592.30 655.27,591.45 660.94,578.62 666.60,591.28 672.26,573.34 677.92,562.19 683.58,568.75 689.25,559.86 694.91,566.68 700.57,557.91 706.23,563.89 711.89,556.75 717.56,558.97 723.22,561.89 728.88,572.02 734.54,567.37 740.21,584.61 745.87,585.50 751.53,591.50 757.19,599.78 762.85,602.37 768.52,597.15 774.18,587.18 779.84,579.42 785.50,578.13 791.16,572.30 796.83,579.03 802.49,584.63 808.15,590.79 813.81,600.21 819.47,588.00 825.14,589.60 830.80,592.97 836.46,598.57 842.12,603.22 847.79,596.97 853.45,591.24 859.11,596.97 864.77,581.34 870.43,578.01 876.10,593.31 881.76,582.12 887.42,590.62 893.08,587.69 898.74,598.25 904.41,582.58 910.07,593.13 915.73,597.19 921.39,584.20 927.05,594.56 932.72,591.28 938.38,577.25 944.04,564.08 949.70,563.96 955.36,574.80 961.03,579.80 966.69,587.84 972.35,589.53 978.01,590.89 983.68,595.71 989.34,599.26 995.00,598.97 1000.66,593.51 1006.32,590.78 1011.99,600.38 1017.65,592.43 1023.31,586.20 1028.97,587.78 1034.63,597.01 1040.30,590.19 1045.96,587.08 1051.62,588.84 1057.28,592.13 1062.94,581.18 1068.61,566.02 1074.27,560.02 1079.93,585.04 1085.59,580.44 1091.26,576.30 1096.92,581.05 1102.58,583.69 1108.24,579.44 1113.90,588.12 1119.57,594.42 1125.23,590.80 1130.89,590.46 1136.55,599.82 1142.21,599.66 1147.88,601.67 1153.54,592.94 1159.20,603.59 1164.86,605.30 1170.52,601.84 1176.19,586.23 1181.85,588.76 1187.51,588.91 1193.17,585.31 1198.84,595.11 1204.50,591.11"/>
<polyline fill="none" stroke="#ff7a1a" stroke-width="1.05" stroke-linejoin="round" points="-1.53,564.00 4.13,564.49 9.79,563.57 15.46,568.43 21.12,575.87 26.78,585.60 32.44,587.87 38.10,588.13 43.77,583.83 49.43,581.83 55.09,574.70 60.75,566.13 66.42,560.13 72.08,557.57 77.74,557.95 83.40,557.56 89.06,558.77 94.73,561.60 100.39,561.82 106.05,565.42 111.71,568.55 117.37,571.89 123.04,574.39 128.70,576.68 134.36,579.62 140.02,581.24 145.68,581.60 151.35,582.37 157.01,581.72 162.67,580.80 168.33,579.51 174.00,575.60 179.66,572.43 185.32,573.15 190.98,577.41 196.64,579.96 202.31,583.59 207.97,587.59 213.63,591.87 219.29,591.09 224.95,593.43 230.62,595.48 236.28,600.07 241.94,597.53 247.60,599.21 253.26,599.08 258.93,600.98 264.59,601.20 270.25,602.02 275.91,595.88 281.58,591.26 287.24,586.87 292.90,587.54 298.56,582.07 304.22,577.83 309.89,580.93 315.55,590.42 321.21,596.65 326.87,599.70 332.53,598.18 338.20,595.88 343.86,589.94 349.52,590.75 355.18,590.29 360.84,589.42 366.51,584.56 372.17,588.45 377.83,589.21 383.49,590.61 389.15,584.97 394.82,580.39 400.48,577.30 406.14,584.33 411.80,592.04 417.47,591.82 423.13,579.76 428.79,569.23 434.45,567.87 440.11,572.30 445.78,582.17 451.44,588.71 457.10,592.46 462.76,590.49 468.42,588.48 474.09,589.34 479.75,590.41 485.41,592.30 491.07,592.78 496.73,591.23 502.40,586.54 508.06,580.24 513.72,570.80 519.38,563.27 525.05,558.35 530.71,561.62 536.37,564.63 542.03,563.08 547.69,560.45 553.36,556.98 559.02,558.83 564.68,560.48 570.34,568.94 576.00,571.23 581.67,572.08 587.33,569.79 592.99,577.66 598.65,588.57 604.31,595.17 609.98,596.80 615.64,597.26 621.30,599.03 626.96,598.73 632.63,596.32 638.29,595.04 643.95,593.38 649.61,593.32 655.27,591.64 660.94,587.46 666.60,587.12 672.26,581.08 677.92,575.61 683.58,568.09 689.25,563.60 694.91,565.10 700.57,561.48 706.23,562.82 711.89,559.51 717.56,559.87 723.22,559.20 728.88,564.29 734.54,567.09 740.21,574.67 745.87,579.16 751.53,587.20 757.19,592.26 762.85,597.88 768.52,599.76 774.18,595.57 779.84,587.92 785.50,581.58 791.16,576.62 796.83,576.49 802.49,578.66 808.15,584.82 813.81,591.88 819.47,593.00 825.14,592.61 830.80,590.19 836.46,593.71 842.12,598.25 847.79,599.59 853.45,597.14 859.11,595.06 864.77,589.85 870.43,585.44 876.10,584.22 881.76,584.48 887.42,588.68 893.08,586.81 898.74,592.19 904.41,589.51 910.07,591.32 915.73,590.97 921.39,591.51 927.05,591.98 932.72,590.01 938.38,587.70 944.04,577.54 949.70,568.43 955.36,567.61 961.03,572.85 966.69,580.81 972.35,585.72 978.01,589.42 983.68,592.04 989.34,595.29 995.00,597.98 1000.66,597.25 1006.32,594.42 1011.99,594.89 1017.65,594.53 1023.31,593.00 1028.97,588.80 1034.63,590.33 1040.30,591.66 1045.96,591.43 1051.62,588.71 1057.28,589.35 1062.94,587.38 1068.61,579.78 1074.27,569.08 1079.93,570.36 1085.59,575.17 1091.26,580.59 1096.92,579.26 1102.58,580.34 1108.24,581.39 1113.90,583.75 1119.57,587.33 1125.23,591.12 1130.89,591.89 1136.55,593.69 1142.21,596.65 1147.88,600.38 1153.54,598.09 1159.20,599.40 1164.86,600.61 1170.52,603.58 1176.19,597.79 1181.85,592.28 1187.51,587.97 1193.17,587.66 1198.84,589.78 1204.50,590.51"/>
</g>
<g font-size="9.6" fill="#131722"><text x="1362.5" y="527.77" textLength="27.0" lengthAdjust="spacingAndGlyphs">52.000</text><text x="1362.5" y="503.39" textLength="27.0" lengthAdjust="spacingAndGlyphs">56.000</text><text x="1362.5" y="479.02" textLength="27.0" lengthAdjust="spacingAndGlyphs">60.000</text><text x="1362.5" y="454.64" textLength="27.0" lengthAdjust="spacingAndGlyphs">64.000</text><text x="1362.5" y="430.27" textLength="27.0" lengthAdjust="spacingAndGlyphs">68.000</text><text x="1362.5" y="405.89" textLength="27.0" lengthAdjust="spacingAndGlyphs">72.000</text><text x="1362.5" y="381.51" textLength="27.0" lengthAdjust="spacingAndGlyphs">76.000</text><text x="1362.5" y="357.14" textLength="27.0" lengthAdjust="spacingAndGlyphs">80.000</text><text x="1362.5" y="332.76" textLength="27.0" lengthAdjust="spacingAndGlyphs">84.000</text><text x="1362.5" y="308.39" textLength="27.0" lengthAdjust="spacingAndGlyphs">88.000</text><text x="1362.5" y="284.01" textLength="27.0" lengthAdjust="spacingAndGlyphs">92.000</text><text x="1362.5" y="259.63" textLength="27.0" lengthAdjust="spacingAndGlyphs">96.000</text><text x="1362.5" y="235.26" textLength="32.0" lengthAdjust="spacingAndGlyphs">100.000</text><text x="1362.5" y="210.88" textLength="32.0" lengthAdjust="spacingAndGlyphs">104.000</text><text x="1362.5" y="186.51" textLength="32.0" lengthAdjust="spacingAndGlyphs">108.000</text><text x="1362.5" y="162.13" textLength="32.0" lengthAdjust="spacingAndGlyphs">112.000</text><text x="1362.5" y="137.75" textLength="32.0" lengthAdjust="spacingAndGlyphs">116.000</text><text x="1362.5" y="113.38" textLength="32.0" lengthAdjust="spacingAndGlyphs">120.000</text><text x="1362.5" y="89.00" textLength="32.0" lengthAdjust="spacingAndGlyphs">124.000</text><text x="1362.5" y="64.63" textLength="32.0" lengthAdjust="spacingAndGlyphs">128.000</text><text x="1362.5" y="40.25" textLength="32.0" lengthAdjust="spacingAndGlyphs">132.000</text><text x="1362.5" y="559.30" textLength="27.0" lengthAdjust="spacingAndGlyphs">100.00</text><text x="1362.5" y="609.20" textLength="17.2" lengthAdjust="spacingAndGlyphs">0.00</text></g>
<rect x="1355.8" y="287.20" width="38" height="13" rx="1.5" fill="#2962ff"/>
<text x="1362.5" y="297.10" font-size="9.6" fill="#fff" stroke="#fff" stroke-width="0.25" textLength="27.0" lengthAdjust="spacingAndGlyphs">89.946</text>
<rect x="1355.8" y="409.20" width="38" height="13" rx="1.5" fill="#2196f3"/>
<text x="1362.5" y="419.10" font-size="9.6" fill="#fff" stroke="#fff" stroke-width="0.25" textLength="27.0" lengthAdjust="spacingAndGlyphs">69.986</text>
<rect x="1355.8" y="436.50" width="38" height="13" rx="1.5" fill="#2196f3"/>
<text x="1362.5" y="446.40" font-size="9.6" fill="#fff" stroke="#fff" stroke-width="0.25" textLength="27.0" lengthAdjust="spacingAndGlyphs">65.549</text>
<rect x="1355.8" y="450.40" width="38" height="13" rx="1.5" fill="#089981"/>
<text x="1362.5" y="460.30" font-size="9.6" fill="#fff" stroke="#fff" stroke-width="0.25" textLength="27.0" lengthAdjust="spacingAndGlyphs">63.293</text>
<rect x="1355.8" y="478.30" width="38" height="13" rx="1.5" fill="#2196f3"/>
<text x="1362.5" y="488.20" font-size="9.6" fill="#fff" stroke="#fff" stroke-width="0.25" textLength="27.0" lengthAdjust="spacingAndGlyphs">58.663</text>
<rect x="1355.8" y="571.40" width="33.4" height="13.6" rx="1.5" fill="#ff6d00"/>
<text x="1362.5" y="581.60" font-size="9.6" fill="#fff" stroke="#fff" stroke-width="0.25" textLength="22.4" lengthAdjust="spacingAndGlyphs">30.98</text>
<rect x="1355.8" y="585.00" width="33.4" height="13.2" rx="1.5" fill="#2962ff"/>
<text x="1362.5" y="595.00" font-size="9.6" fill="#fff" stroke="#fff" stroke-width="0.25" textLength="22.4" lengthAdjust="spacingAndGlyphs">30.03</text>
<g font-size="9.6" fill="#131722" text-anchor="middle"><text x="3.3800000000000003" y="625">Nov</text><text x="55.24" y="625" font-weight="bold" font-size="9.1">2022</text><text x="106.2" y="625">Mar</text><text x="151.5" y="625">May</text><text x="202.46" y="625">Jul</text><text x="253.41" y="625">Sep</text><text x="304.37" y="625">Nov</text><text x="349.67" y="625" font-weight="bold" font-size="9.1">2023</text><text x="400.63" y="625">Mar</text><text x="445.93" y="625">May</text><text x="496.88" y="625">Jul</text><text x="547.84" y="625">Sep</text><text x="598.8" y="625">Nov</text><text x="644.1" y="625" font-weight="bold" font-size="9.1">2024</text><text x="695.06" y="625">Mar</text><text x="746.02" y="625">May</text><text x="791.31" y="625">Jul</text><text x="842.27" y="625">Sep</text><text x="893.23" y="625">Nov</text><text x="944.19" y="625" font-weight="bold" font-size="9.1">2025</text><text x="989.49" y="625">Mar</text><text x="1040.45" y="625">May</text><text x="1091.41" y="625">Jul</text><text x="1136.7" y="625">Sep</text><text x="1187.66" y="625">Nov</text><text x="1238.62" y="625" font-weight="bold" font-size="9.1">2026</text><text x="1283.92" y="625">Mar</text><text x="1335.48" y="625">May</text></g>
<g transform="translate(1379,622.3)" fill="none" stroke="#131722" stroke-width="1"><polygon points="-5.2,0 -2.7,-4.6 2.7,-4.6 5.2,0 2.7,4.6 -2.7,4.6" stroke-linejoin="round"/><circle r="1.6"/></g>
<text x="-2.3" y="11" font-size="9.7" fill="#131722" textLength="80.5" lengthAdjust="spacingAndGlyphs">VWMA 200 close 0</text>
<text x="85.7" y="11" font-size="9.7" fill="#2962ff" textLength="30" lengthAdjust="spacingAndGlyphs">89.946</text>
<rect x="-3" y="20" width="23.3" height="14.3" rx="2" fill="#fff" stroke="#e0e3eb" stroke-width="1"/>
<polyline points="6.6,28.3 9.3,25.6 12,28.3" fill="none" stroke="#131722" stroke-width="1.2"/>
<path d="M1358.3,-1 V15 a2.5,2.5 0 0 0 2.5,2.5 H1401 V-1 Z" fill="#fff" stroke="#e0e3eb" stroke-width="1"/>
<text x="1361.5" y="10.5" font-size="9" fill="#131722" textLength="15.8" lengthAdjust="spacingAndGlyphs">USD</text>
<polyline points="1392.4,6.9 1394.3,8.7 1396.2,6.9" fill="none" stroke="#131722" stroke-width="1.1"/>
<rect x="0" y="556.5" width="118" height="12" fill="#fff" opacity="0.6"/>
<text x="-1" y="566.3" font-size="9.7" fill="#131722" textLength="54.7" lengthAdjust="spacingAndGlyphs">Stoch 14 1 3</text>
<text x="60.9" y="566.3" font-size="9.7" fill="#2962ff" textLength="24" lengthAdjust="spacingAndGlyphs">30.03</text>
<text x="90.4" y="566.3" font-size="9.7" fill="#ff6d00" textLength="23.6" lengthAdjust="spacingAndGlyphs">30.98</text>
<g stroke="#fff" stroke-width="4" stroke-linejoin="round" fill="#fff"><g transform="translate(1.8,585.9) scale(0.655)"><path d="M14 22H7V11H0V4h14v18zM28 22h-8l7.5-18h8L28 22z"/><circle cx="20" cy="8" r="4"/></g><text x="30.4" y="599.9" font-size="16" textLength="93.8" lengthAdjust="spacingAndGlyphs">TradingView</text></g>
<g fill="#131722" stroke="#131722" stroke-width="0.8" stroke-linejoin="round"><g stroke="none" transform="translate(1.8,585.9) scale(0.655)"><path d="M14 22H7V11H0V4h14v18zM28 22h-8l7.5-18h8L28 22z"/><circle cx="20" cy="8" r="4"/></g><text x="30.4" y="599.9" font-size="16" textLength="93.8" lengthAdjust="spacingAndGlyphs">TradingView</text></g>
</svg></body></html>
